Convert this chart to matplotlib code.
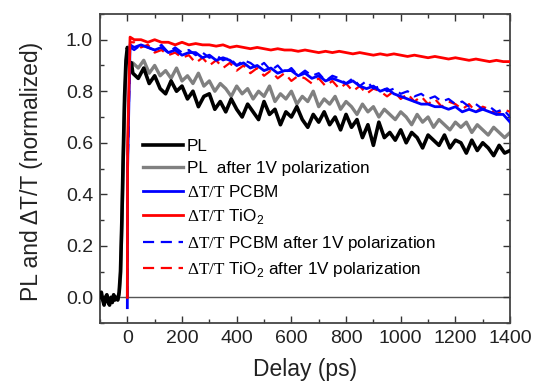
import numpy as np
import matplotlib
matplotlib.use("Agg")
import matplotlib.pyplot as plt
from matplotlib.ticker import MultipleLocator

plt.rcParams['font.family'] = ['Liberation Sans', 'DejaVu Sans']
plt.rcParams['mathtext.fontset'] = 'custom'
plt.rcParams['mathtext.rm'] = 'Liberation Serif'
plt.rcParams['mathtext.sf'] = 'Liberation Sans'

# ---- data ----
# PL curves: 5 ps steps up to 15 ps, then 20 ps steps
t_pl = np.concatenate([np.arange(-100, 20, 5), np.arange(20, 1401, 20)])
pl = [0.0, 0.02, -0.01, -0.03, 0.0, 0.01, -0.02, -0.03, 0.0, -0.02, 0.01, -0.01,
      0.0, -0.01, 0.02, 0.1, 0.3, 0.55, 0.78, 0.92, 0.97, 0.95, 0.88, 0.91,
      0.87, 0.85, 0.89, 0.83, 0.86, 0.81, 0.79, 0.84, 0.80, 0.82,
      0.77, 0.80, 0.74, 0.78, 0.79, 0.73, 0.76, 0.72, 0.77, 0.73,
      0.70, 0.75, 0.72, 0.69, 0.76, 0.71, 0.73, 0.67, 0.72, 0.70,
      0.74, 0.69, 0.66, 0.71, 0.68, 0.72, 0.67, 0.70, 0.65, 0.71,
      0.66, 0.69, 0.62, 0.67, 0.59, 0.68, 0.62, 0.64, 0.61, 0.65,
      0.60, 0.64, 0.62, 0.58, 0.63, 0.61, 0.59, 0.63, 0.58, 0.61,
      0.60, 0.56, 0.61, 0.57, 0.60, 0.58, 0.55, 0.59, 0.56, 0.57]
pl_pol = [0.0, 0.01, -0.01, -0.02, 0.0, 0.01, -0.01, -0.02, 0.0, -0.01, 0.01, 0.0,
          0.0, -0.01, 0.01, 0.08, 0.28, 0.52, 0.75, 0.88, 0.93, 0.92, 0.90, 0.91,
          0.91, 0.89, 0.92, 0.87, 0.90, 0.86, 0.88, 0.85, 0.89, 0.84,
          0.86, 0.83, 0.87, 0.82, 0.84, 0.80, 0.83, 0.81, 0.78, 0.82,
          0.79, 0.81, 0.77, 0.80, 0.78, 0.82, 0.76, 0.79, 0.77, 0.80,
          0.75, 0.78, 0.76, 0.80, 0.74, 0.77, 0.75, 0.78, 0.73, 0.76,
          0.74, 0.71, 0.75, 0.72, 0.74, 0.70, 0.73, 0.71, 0.69, 0.72,
          0.70, 0.67, 0.71, 0.68, 0.70, 0.66, 0.69, 0.67, 0.65, 0.68,
          0.66, 0.68, 0.64, 0.67, 0.65, 0.63, 0.66, 0.64, 0.62, 0.64]

# transient absorption curves: 0, 1, 10 ps then 25 ps steps
t_ta = np.concatenate([[0, 1, 10], np.arange(25, 1401, 25)])
ta_pcbm = [-0.04, 0.5, 0.98,
           0.97, 0.98, 0.97, 0.96, 0.97, 0.95, 0.96, 0.94, 0.95, 0.95,
           0.93, 0.94, 0.92, 0.93, 0.92, 0.90, 0.91, 0.89, 0.90, 0.88,
           0.89, 0.87, 0.88, 0.88, 0.86, 0.87, 0.85, 0.86, 0.84, 0.85,
           0.84, 0.83, 0.84, 0.82, 0.81, 0.82, 0.80, 0.81, 0.79, 0.78,
           0.77, 0.76, 0.75, 0.75, 0.74, 0.74, 0.73, 0.74, 0.72, 0.73,
           0.72, 0.73, 0.72, 0.71, 0.71, 0.68]
ta_tio2 = [0.0, 0.6, 1.01,
           1.00, 1.00, 0.99, 1.00, 0.99, 0.99, 0.98, 0.99, 0.98, 0.985,
           0.98, 0.98, 0.975, 0.98, 0.97, 0.975, 0.97, 0.965, 0.97, 0.965,
           0.96, 0.965, 0.96, 0.96, 0.955, 0.96, 0.955, 0.95, 0.955, 0.95,
           0.955, 0.95, 0.945, 0.95, 0.945, 0.94, 0.945, 0.94, 0.945, 0.94,
           0.935, 0.94, 0.935, 0.93, 0.935, 0.93, 0.925, 0.93, 0.925, 0.92,
           0.925, 0.92, 0.915, 0.92, 0.915, 0.915]
ta_pcbm_pol = [0.0, 0.5, 0.97,
               0.96, 0.98, 0.97, 0.96, 0.98, 0.95, 0.97, 0.95, 0.96, 0.94,
               0.95, 0.93, 0.94, 0.92, 0.93, 0.90, 0.92, 0.91, 0.89, 0.91,
               0.88, 0.90, 0.87, 0.89, 0.86, 0.88, 0.86, 0.87, 0.84, 0.86,
               0.85, 0.83, 0.85, 0.82, 0.84, 0.81, 0.82, 0.80, 0.81, 0.79,
               0.80, 0.78, 0.79, 0.77, 0.78, 0.76, 0.77, 0.75, 0.76, 0.74,
               0.75, 0.73, 0.74, 0.72, 0.73, 0.70]
ta_tio2_pol = [0.0, 0.5, 0.99,
               0.99, 0.97, 0.98, 0.95, 0.96, 0.94, 0.95, 0.93, 0.94, 0.91,
               0.93, 0.90, 0.92, 0.89, 0.91, 0.88, 0.90, 0.87, 0.89, 0.86,
               0.88, 0.85, 0.87, 0.84, 0.86, 0.85, 0.83, 0.85, 0.82, 0.84,
               0.81, 0.83, 0.80, 0.82, 0.79, 0.81, 0.80, 0.78, 0.80, 0.77,
               0.79, 0.76, 0.78, 0.75, 0.77, 0.74, 0.76, 0.75, 0.73, 0.75,
               0.72, 0.74, 0.73, 0.71, 0.73, 0.72]

labels = ['PL', 'PL  after 1V polarization',
          r'$\mathrm{\Delta T/T}$ PCBM', r'$\mathrm{\Delta T/T}$ TiO$_\mathsf{2}$',
          r'$\mathrm{\Delta T/T}$ PCBM after 1V polarization',
          r'$\mathrm{\Delta T/T}$ TiO$_\mathsf{2}$ after 1V polarization']

# ---- figure ----
fig = plt.figure(figsize=(5.33, 3.87), dpi=100)
ax = fig.add_axes([0.1876, 0.165, 0.7694, 0.799])

ax.axhline(0, color='#555555', lw=1.0, zorder=1)

l_pol, = ax.plot(t_pl, pl_pol, color='#808080', lw=2.4, zorder=2)
l_pl, = ax.plot(t_pl, pl, color='black', lw=2.6, zorder=3)
l_tio2p, = ax.plot(t_ta, ta_tio2_pol, color='red', lw=1.6, ls=(0, (5, 3)), zorder=4)
l_pcbmp, = ax.plot(t_ta, ta_pcbm_pol, color='blue', lw=1.6, ls=(0, (5, 3)), zorder=5)
l_pcbm, = ax.plot(t_ta, ta_pcbm, color='blue', lw=2.0, zorder=6)
l_tio2, = ax.plot(t_ta, ta_tio2, color='red', lw=2.0, zorder=7)

ax.set_xlim(-100, 1400)
ax.set_ylim(-0.1, 1.1)
ax.xaxis.set_major_locator(MultipleLocator(200))
ax.xaxis.set_minor_locator(MultipleLocator(100))
ax.yaxis.set_major_locator(MultipleLocator(0.2))
ax.yaxis.set_minor_locator(MultipleLocator(0.1))
ax.tick_params(which='both', direction='in', top=True, right=True,
               colors='#333333', labelcolor='#222222', labelsize=14)
ax.tick_params(which='major', length=5, width=1.0, pad=5)
ax.tick_params(which='minor', length=3, width=1.0)
for s in ax.spines.values():
    s.set_linewidth(1.3)
    s.set_color('#444444')

ax.set_xlabel('Delay (ps)', fontsize=16.5, color='#222222', labelpad=8)
ax.set_ylabel('PL and ΔT/T (normalized)', fontsize=16.5, color='#222222')
ax.yaxis.set_label_coords(-0.139, 0.49)

ax.legend([l_pl, l_pol, l_pcbm, l_tio2, l_pcbmp, l_tio2p], labels,
          loc='lower left', bbox_to_anchor=(0.105, 0.142), frameon=False,
          fontsize=12.3, handlelength=2.35, handletextpad=0.2,
          labelspacing=0.44, borderaxespad=0, borderpad=0)

fig.savefig('out.png', dpi=100)
